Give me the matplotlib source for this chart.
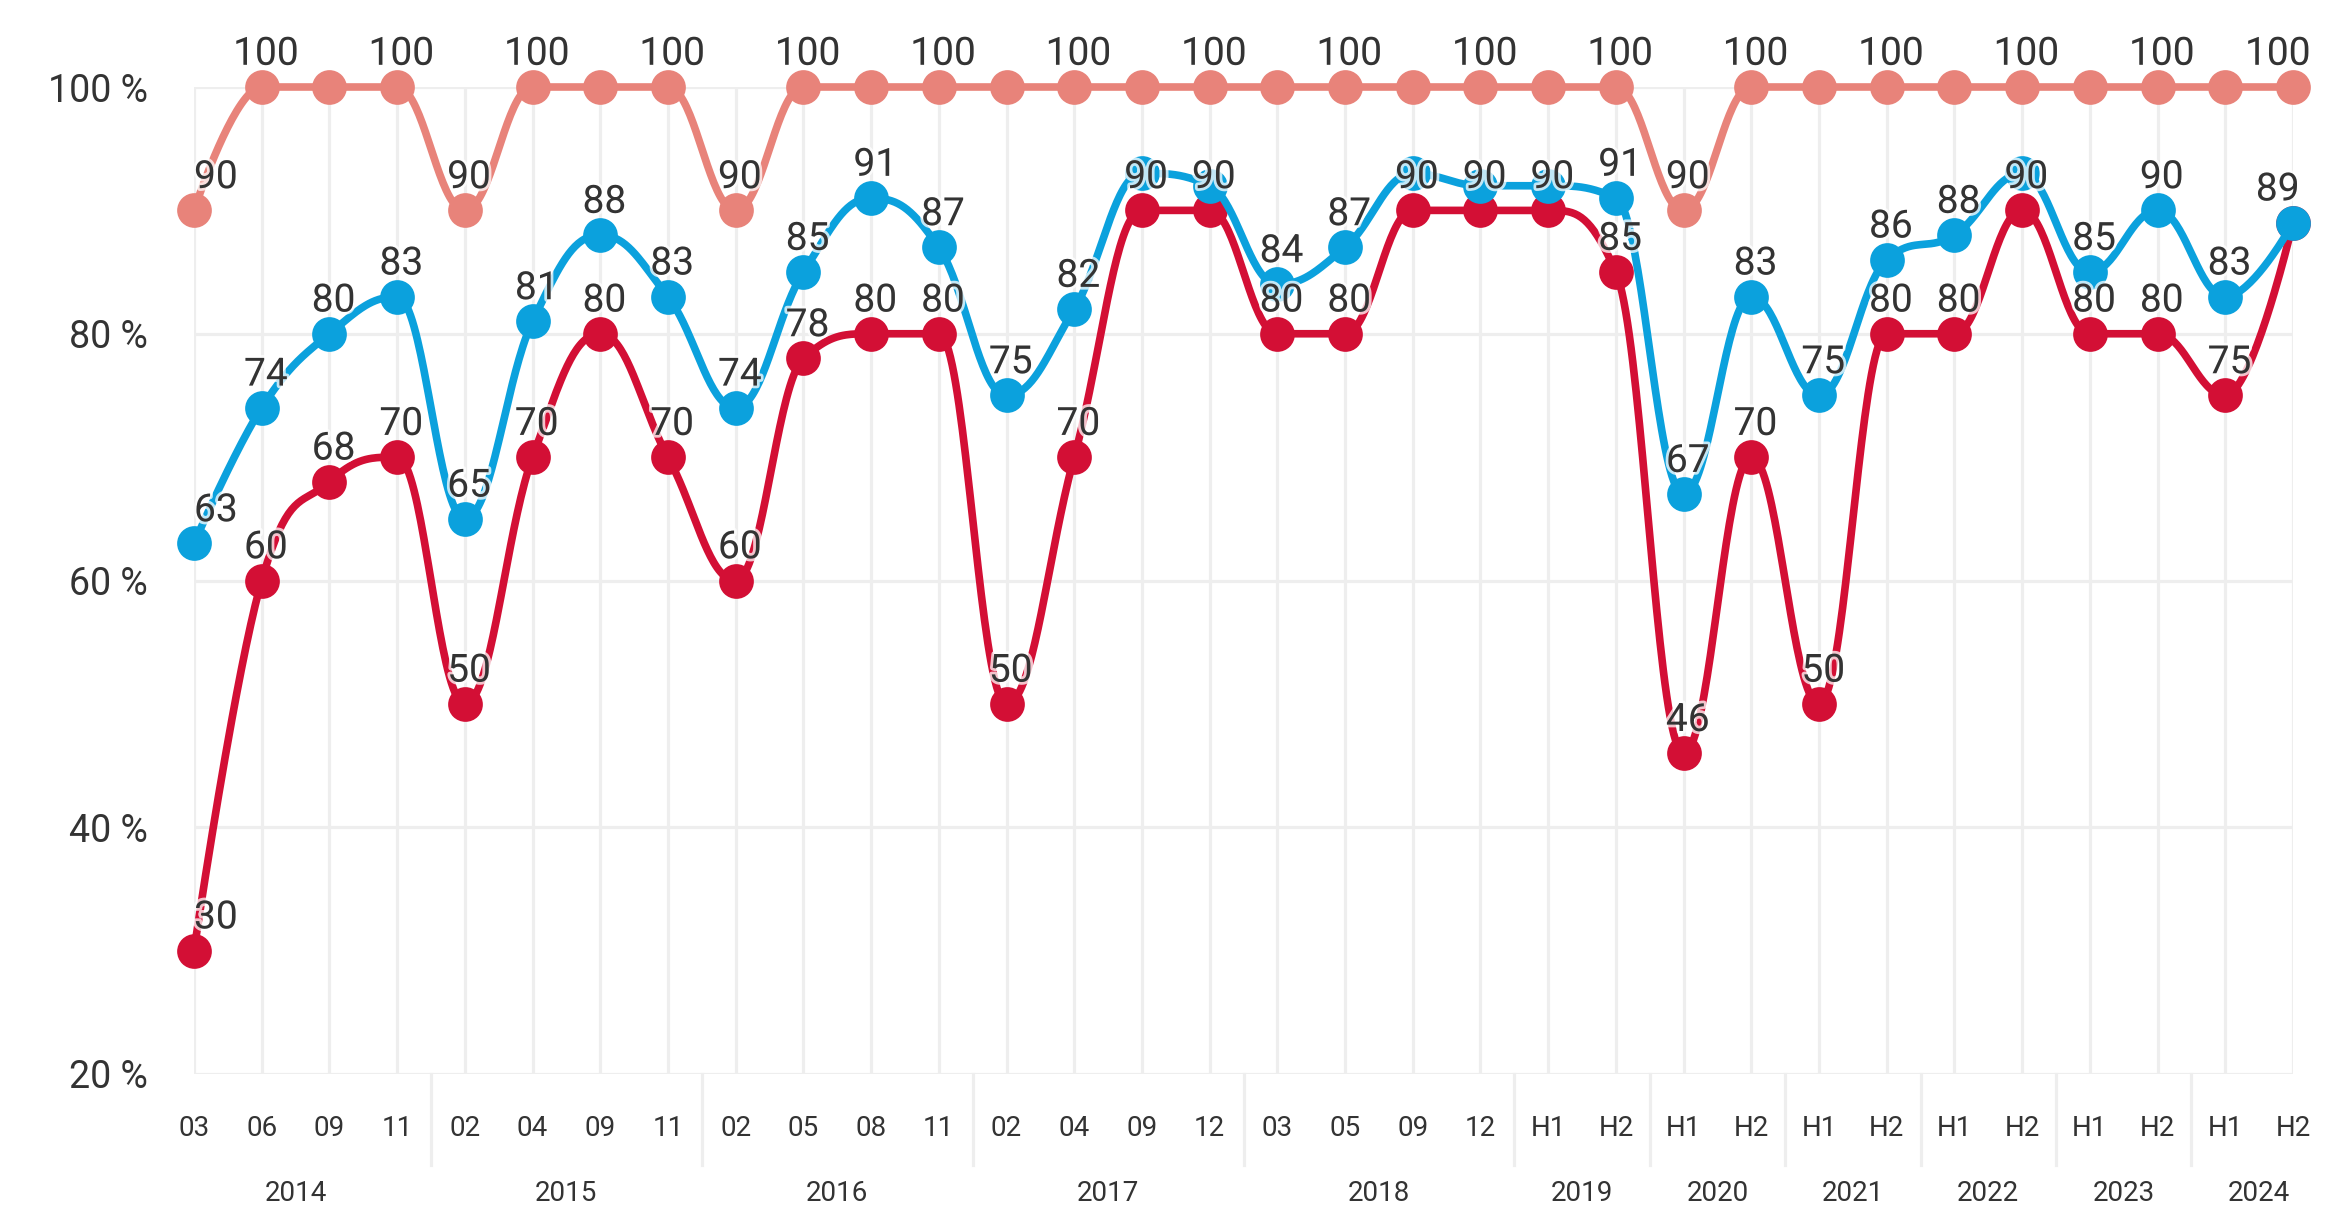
import numpy as np
import matplotlib
matplotlib.use('Agg')
import matplotlib.pyplot as plt
import matplotlib.patheffects as pe
from matplotlib.transforms import blended_transform_factory

# ---------------- data ----------------
categories = ['03', '06', '09', '11', '02', '04', '09', '11', '02', '05', '08', '11',
              '02', '04', '09', '12', '03', '05', '09', '12', 'H1', 'H2', 'H1', 'H2',
              'H1', 'H2', 'H1', 'H2', 'H1', 'H2', 'H1', 'H2']
years = ['2014', '2015', '2016', '2017', '2018', '2019', '2020', '2021', '2022', '2023', '2024']
year_sizes = [4, 4, 4, 4, 4, 2, 2, 2, 2, 2, 2]

salmon = [90, 100, 100, 100, 90, 100, 100, 100, 90, 100, 100, 100, 100, 100, 100, 100,
          100, 100, 100, 100, 100, 100, 90, 100, 100, 100, 100, 100, 100, 100, 100, 100]
blue = [63, 74, 80, 83, 65, 81, 88, 83, 74, 85, 91, 87, 75, 82, 93, 92,
        84, 87, 93, 92, 92, 91, 67, 83, 75, 86, 88, 93, 85, 90, 83, 89]
red = [30, 60, 68, 70, 50, 70, 80, 70, 60, 78, 80, 80, 50, 70, 90, 90,
       80, 80, 90, 90, 90, 85, 46, 70, 50, 80, 80, 90, 80, 80, 75, 89]

# labels hidden by overlap in the original
salmon_hidden = [2, 6, 10, 12, 14, 16, 18, 20, 24, 26, 28, 30]
blue_hidden = [14, 15, 18, 19, 20, 27]
red_hidden = [31]

C_SALMON = '#E8837A'
C_BLUE = '#0BA1DD'
C_RED = '#D30F35'
TXT = '#333333'
GRID = '#EEEEEE'

plt.rcParams['font.family'] = ['Roboto', 'DejaVu Sans']


def spline(xs, ys, n=40):
    """Highcharts-like spline through the points."""
    x = np.asarray(xs, float)
    y = np.asarray(ys, float)
    N = len(x)
    lcx, lcy, rcx, rcy = x.copy(), y.copy(), x.copy(), y.copy()
    s = 1.5
    d = s + 1
    for i in range(1, N - 1):
        px, py = x[i], y[i]
        lx, ly = x[i - 1], y[i - 1]
        nx, ny = x[i + 1], y[i + 1]
        lX = (s * px + lx) / d
        lY = (s * py + ly) / d
        rX = (s * px + nx) / d
        rY = (s * py + ny) / d
        corr = (rY - lY) * (rX - px) / (rX - lX) + py - rY
        lY += corr
        rY += corr
        if lY > ly and lY > py:
            lY = max(ly, py); rY = 2 * py - lY
        elif lY < ly and lY < py:
            lY = min(ly, py); rY = 2 * py - lY
        if rY > ny and rY > py:
            rY = max(ny, py); lY = 2 * py - rY
        elif rY < ny and rY < py:
            rY = min(ny, py); lY = 2 * py - rY
        lcx[i], lcy[i], rcx[i], rcy[i] = lX, lY, rX, rY
    t = np.linspace(0, 1, n)[:, None]
    outx, outy = [x[0]], [y[0]]
    for i in range(1, N):
        P = np.array([[x[i - 1], y[i - 1]], [rcx[i - 1], rcy[i - 1]],
                      [lcx[i], lcy[i]], [x[i], y[i]]])
        B = ((1 - t) ** 3) * P[0] + 3 * ((1 - t) ** 2) * t * P[1] + \
            3 * (1 - t) * t ** 2 * P[2] + t ** 3 * P[3]
        outx.extend(B[1:, 0]); outy.extend(B[1:, 1])
    return np.array(outx), np.array(outy)


W, H = 2346, 1207
fig = plt.figure(figsize=(W / 100, H / 100), dpi=100)
x0, x1, yt, yb = 194, 2293, 87, 1074
ax = fig.add_axes([x0 / W, 1 - yb / H, (x1 - x0) / W, (yb - yt) / H])

n = len(categories)
xs = np.arange(n)
ax.set_xlim(0, n - 1)
ax.set_ylim(20, 100)

for sp in ax.spines.values():
    sp.set_visible(False)

ax.set_xticks(xs)
ax.set_xticklabels([])
ax.set_yticks([20, 40, 60, 80, 100])
ax.set_yticklabels([f'{v} %' for v in [20, 40, 60, 80, 100]])
ax.tick_params(axis='x', length=0)
ax.tick_params(axis='y', length=0, pad=33, labelsize=27, labelcolor=TXT)
ax.grid(True, color=GRID, linewidth=2.3, zorder=0)
ax.set_axisbelow(True)

# series
for vals, col, z in [(red, C_RED, 3), (blue, C_BLUE, 4), (salmon, C_SALMON, 5)]:
    sx, sy = spline(xs, vals)
    ax.plot(sx, sy, color=col, linewidth=5.5, zorder=z, clip_on=False,
            solid_capstyle='round')
    ax.plot(xs, vals, 'o', color=col, markersize=25, markeredgewidth=0,
            zorder=z + 0.5, clip_on=False)

halo = [pe.withStroke(linewidth=4, foreground=(1, 1, 1, 0.75))]


def labels(vals, hidden):
    for i, v in enumerate(vals):
        if i in hidden:
            continue
        if i == 0:
            ha, dx = 'left', 0
        elif i == n - 1:
            ha, dx = 'center', -11
        else:
            ha, dx = 'center', 3
        ax.annotate(f'{v}', (i, v), xytext=(dx, 16), textcoords='offset points',
                    ha=ha, va='baseline', fontsize=28, color=TXT,
                    path_effects=halo, zorder=10, annotation_clip=False)


labels(red, red_hidden)
labels(blue, blue_hidden)
labels(salmon, salmon_hidden)

# category labels
for i, c in enumerate(categories):
    ax.annotate(c, (i, 0), xycoords=('data', 'axes fraction'), xytext=(0, -39.6),
                textcoords='offset points', ha='center', va='center',
                fontsize=20, color=TXT, annotation_clip=False)

# year labels and separators
tr = blended_transform_factory(ax.transData, ax.transAxes)
start = 0
for yr, sz in zip(years, year_sizes):
    center = start + (sz - 1) / 2
    ax.annotate(yr, (center, 0), xycoords=('data', 'axes fraction'), xytext=(0, -85.7),
                textcoords='offset points', ha='center', va='center',
                fontsize=20, color=TXT, annotation_clip=False)
    start += sz
    if start < n:
        xb = start - 0.5
        ax.plot([xb, xb], [0, -91 / (yb - yt)], transform=tr, color=GRID,
                linewidth=2.3, clip_on=False, zorder=0)

fig.savefig('out.png', dpi=100, facecolor='white')
